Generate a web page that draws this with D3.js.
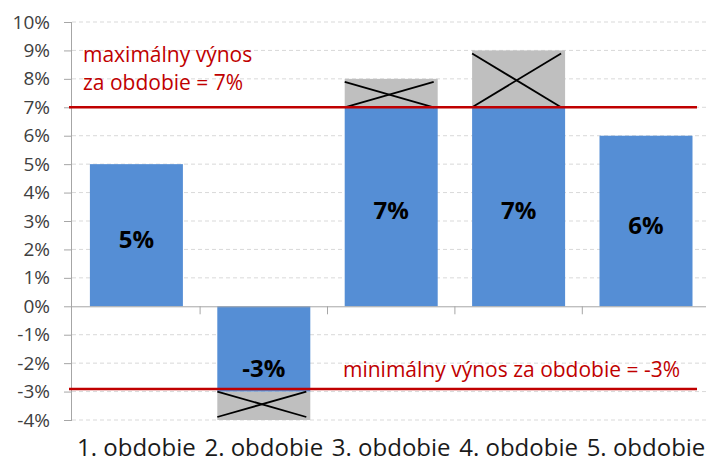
<!DOCTYPE html>
<html>
<head>
<meta charset="utf-8">
<script src="https://cdn.jsdelivr.net/npm/d3@7"></script>
<style>
  html, body { margin: 0; padding: 0; background: #fff; }
  svg { display: block; }
</style>
</head>
<body>
<svg id="chart" width="706" height="462"></svg>
<script>
// ---- data ----
const categories = ["1. obdobie", "2. obdobie", "3. obdobie", "4. obdobie", "5. obdobie"];
const actualReturns = [5, -4, 8, 9, 6];      // underlying return of the period
const creditedReturns = [5, -3, 7, 7, 6];    // return after cap / floor
const barLabels = ["5%", "-3%", "7%", "7%", "6%"];
const yTicks = [-4, -3, -2, -1, 0, 1, 2, 3, 4, 5, 6, 7, 8, 9, 10];
const maxYield = 7;
const minYield = -3;
const maxText = ["maximálny výnos", "za obdobie = 7%"];
const minText = "minimálny výnos za obdobie = -3%";

// ---- layout ----
const svg = d3.select("#chart");
const W = 706, H = 462;
const plotLeft = 72, plotTop = 22, plotBottom = 420;

const x = d3.scaleBand().domain(categories)
  .range([72.7, 709.7]).paddingInner(0.27).paddingOuter(0.135);
const y = d3.scaleLinear().domain([-4, 10]).range([plotBottom, plotTop]);

const blue = "#558ed5", grey = "#bfbfbf", red = "#c00000";
const font = "'Open Sans', 'DejaVu Sans', sans-serif";

// gridlines
svg.append("g").selectAll("line").data(yTicks.filter(d => d !== 0)).join("line")
  .attr("x1", plotLeft).attr("x2", W)
  .attr("y1", d => y(d)).attr("y2", d => y(d))
  .attr("stroke", "#d9d9d9").attr("stroke-width", 1).attr("stroke-dasharray", "4,3");

// y axis
const yAxis = d3.axisLeft(y).tickValues(yTicks).tickSize(8).tickPadding(14)
  .tickFormat(d => d + "%");
const gy = svg.append("g").attr("transform", `translate(${plotLeft},0)`).call(yAxis);
gy.select(".domain").attr("stroke", "#a6a6a6").attr("d", `M-0.5,${plotTop}V${plotBottom}`);
gy.selectAll(".tick line").attr("stroke", "#a6a6a6");
gy.selectAll(".tick text").attr("font-family", font).attr("font-size", 19)
  .attr("fill", "#404040");

// bars: gray excess parts
const idx = d3.range(categories.length);
svg.append("g").selectAll("rect").data(idx.filter(i => actualReturns[i] !== creditedReturns[i])).join("rect")
  .attr("x", i => x(categories[i]))
  .attr("width", x.bandwidth())
  .attr("y", i => y(Math.max(actualReturns[i], creditedReturns[i])))
  .attr("height", i => Math.abs(y(actualReturns[i]) - y(creditedReturns[i])))
  .attr("fill", grey);

// blue bars
svg.append("g").selectAll("rect").data(idx).join("rect")
  .attr("x", i => x(categories[i]))
  .attr("width", x.bandwidth())
  .attr("y", i => y(Math.max(0, creditedReturns[i])))
  .attr("height", i => Math.abs(y(creditedReturns[i]) - y(0)))
  .attr("fill", blue);

// crosses on excess parts
const cross = svg.append("g");
idx.filter(i => actualReturns[i] !== creditedReturns[i]).forEach(i => {
  const x0 = x(categories[i]), x1 = x0 + x.bandwidth() - 4;
  const ya = y(creditedReturns[i]), yb = y(actualReturns[i]) + (actualReturns[i] > creditedReturns[i] ? 3 : -3);
  cross.append("line").attr("x1", x0).attr("y1", ya).attr("x2", x1).attr("y2", yb)
    .attr("stroke", "#000").attr("stroke-width", 1.8);
  cross.append("line").attr("x1", x0).attr("y1", yb).attr("x2", x1).attr("y2", ya)
    .attr("stroke", "#000").attr("stroke-width", 1.8);
});

// zero axis with category ticks
const xAxis = d3.axisBottom(x).tickSize(0).tickFormat("");
const gx = svg.append("g").attr("transform", `translate(0,${y(0)})`).call(xAxis);
gx.select(".domain").attr("stroke", "#a6a6a6").attr("d", `M${plotLeft},0.5H${W}`);
gx.selectAll(".tick").remove();
svg.append("g").selectAll("line").data(categories.slice(1)).join("line")
  .attr("x1", d => x(d) - x.step() * x.paddingInner() / 2)
  .attr("x2", d => x(d) - x.step() * x.paddingInner() / 2)
  .attr("y1", y(0)).attr("y2", y(0) + 8)
  .attr("stroke", "#a6a6a6");

// category labels
svg.append("g").selectAll("text").data(categories).join("text")
  .attr("x", d => x(d) + x.bandwidth() / 2)
  .attr("y", 456)
  .attr("text-anchor", "middle")
  .attr("font-family", font).attr("font-size", 24).attr("fill", "#1a1a1a")
  .text(d => d);

// bar labels
svg.append("g").selectAll("text").data(idx).join("text")
  .attr("x", i => x(categories[i]) + x.bandwidth() / 2)
  .attr("y", i => creditedReturns[i] >= 0
      ? (y(0) + y(creditedReturns[i])) / 2 + 3
      : (y(0) + y(actualReturns[i])) / 2 + 4)
  .attr("dominant-baseline", "central")
  .attr("text-anchor", "middle")
  .attr("font-family", font).attr("font-weight", 700).attr("font-size", 24)
  .attr("fill", "#000")
  .text(i => barLabels[i]);

// red limit lines
svg.append("line").attr("x1", 69).attr("x2", 697)
  .attr("y1", y(maxYield)).attr("y2", y(maxYield))
  .attr("stroke", red).attr("stroke-width", 2.5);
svg.append("line").attr("x1", 69).attr("x2", 697)
  .attr("y1", y(minYield) - 2.5).attr("y2", y(minYield) - 2.5)
  .attr("stroke", red).attr("stroke-width", 2.5);

// red texts
svg.append("g").selectAll("text").data(maxText).join("text")
  .attr("x", 83).attr("y", (d, k) => 62 + k * 28)
  .attr("font-family", font).attr("font-size", 21).attr("fill", red)
  .text(d => d);
svg.append("text").attr("x", 343).attr("y", 377)
  .attr("font-family", font).attr("font-size", 21).attr("fill", red)
  .text(minText);
</script>
</body>
</html>
